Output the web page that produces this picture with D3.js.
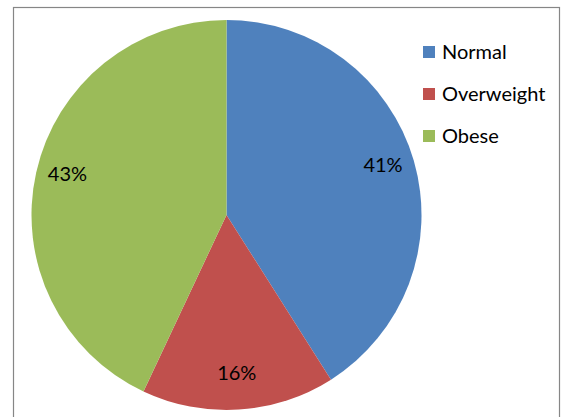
<!DOCTYPE html>
<html>
<head>
<meta charset="utf-8">
<script src="https://cdn.jsdelivr.net/npm/d3@7"></script>
<style>
  body { margin: 0; background: #fff; }
  svg { display: block; font-family: Lato, "Noto Sans", sans-serif; }
</style>
</head>
<body>
<svg id="chart"></svg>
<script>
// data
const categories = ['Normal', 'Overweight', 'Obese'];
const values = [41, 16, 43];
const colors = ['#4F81BD', '#C0504D', '#9BBB59'];

const width = 561, height = 417;
const cx = 226.5, cy = 215, radius = 195;

const svg = d3.select('#chart')
    .attr('width', width)
    .attr('height', height);

// chart frame (bottom is cut off in the picture)
svg.append('rect')
    .attr('x', 13.5)
    .attr('y', 7.5)
    .attr('width', 546)
    .attr('height', 420)
    .attr('fill', 'none')
    .attr('stroke', '#868686')
    .attr('stroke-width', 1.2);

const color = d3.scaleOrdinal().domain(categories).range(colors);

const pie = d3.pie().sort(null).value(d => d.value);
const data = categories.map((c, i) => ({ key: c, value: values[i] }));
const arcs = pie(data);
const total = d3.sum(values);

const arc = d3.arc().innerRadius(0).outerRadius(radius);
const labelArc = d3.arc().innerRadius(163).outerRadius(163);

const g = svg.append('g')
    .attr('transform', `translate(${cx},${cy})`);

g.selectAll('.slice')
    .data(arcs)
    .enter()
    .append('path')
    .attr('class', 'slice')
    .attr('d', arc)
    .attr('fill', d => color(d.data.key));

g.selectAll('.label')
    .data(arcs)
    .enter()
    .append('text')
    .attr('class', 'label')
    .attr('transform', d => `translate(${labelArc.centroid(d)})`)
    .attr('text-anchor', 'middle')
    .attr('dy', '0.1em')
    .attr('font-size', 20)
    .attr('fill', '#000')
    .text(d => Math.round(d.value / total * 100) + '%');

// legend
const legend = svg.append('g')
    .attr('transform', 'translate(423,46)');

const item = legend.selectAll('.item')
    .data(categories)
    .enter()
    .append('g')
    .attr('class', 'item')
    .attr('transform', (d, i) => `translate(0,${i * 42})`);

item.append('rect')
    .attr('width', 12)
    .attr('height', 12)
    .attr('fill', d => color(d));

item.append('text')
    .attr('x', 19)
    .attr('y', 6)
    .attr('dy', '0.36em')
    .attr('font-size', 20)
    .attr('fill', '#000')
    .text(d => d);
</script>
</body>
</html>
